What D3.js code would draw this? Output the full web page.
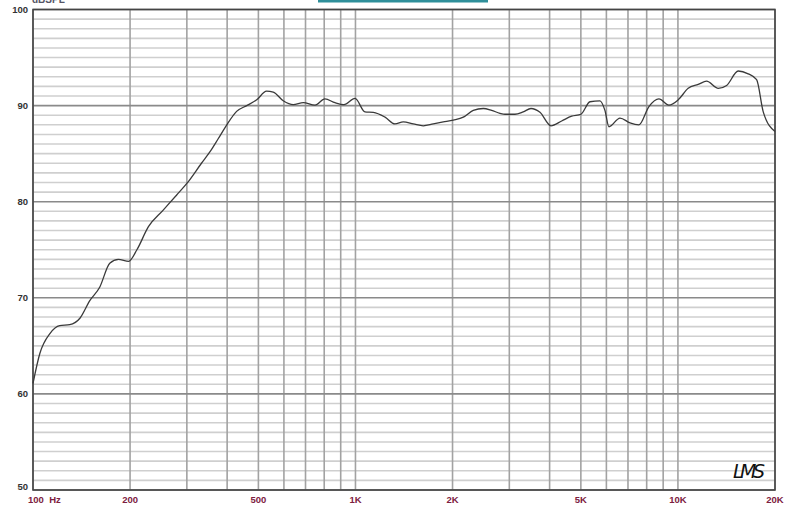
<!DOCTYPE html>
<html>
<head>
<meta charset="utf-8">
<script src="https://cdn.jsdelivr.net/npm/d3@7"></script>
<style>
  body { margin: 0; background: #fff; }
  svg { display: block; }
</style>
</head>
<body>
<div class="chart"></div>
<script>
// frequency response
const freqs = [100, 105, 113, 121, 130, 140, 150, 161, 173, 184, 198, 210, 228, 253, 279, 300,
  333, 354, 376, 399, 428, 460, 494, 530, 556, 597, 641, 689, 749, 804, 864, 921, 997,
  1070, 1136, 1235, 1326, 1407, 1511, 1623, 1743, 1872, 2011, 2160, 2319, 2491, 2645, 2806,
  2908, 3123, 3313, 3502, 3734, 4038, 4360, 4682, 5003, 5336, 5730, 5937, 6110, 6612, 7101,
  7571, 8130, 8732, 9378, 10020, 10760, 11560, 12270, 13340, 14160, 15380, 16520, 17540,
  18390, 20000]
const spl = [61.1, 64.2, 66.3, 67.1, 67.2, 67.9, 69.7, 71.1, 73.6, 74.0, 73.8, 75.0, 77.4, 79.1, 80.7, 81.9,
  84.0, 85.2, 86.6, 88.0, 89.4, 90.0, 90.6, 91.5, 91.4, 90.5, 90.1, 90.3, 90.05, 90.7, 90.3, 90.1, 90.75,
  89.35, 89.3, 88.8, 88.1, 88.3, 88.1, 87.9, 88.1, 88.3, 88.5, 88.8, 89.5, 89.7, 89.5, 89.2,
  89.1, 89.1, 89.35, 89.7, 89.3, 87.9, 88.4, 88.9, 89.1, 90.4, 90.5, 89.5, 87.8, 88.7, 88.2,
  88.0, 89.9, 90.7, 90.05, 90.6, 91.8, 92.2, 92.55, 91.8, 92.1, 93.6, 93.3, 92.7,
  89.35, 87.3]

const gridFreqs = [100, 200, 300, 400, 500, 600, 700, 800, 900, 1000, 2000, 3000, 4000, 5000,
  6000, 7000, 8000, 9000, 10000, 20000]
const tickFreqs = [100, 200, 500, 1000, 2000, 5000, 10000, 20000]
const tickLabels = ["100  Hz", "200", "500", "1K", "2K", "5K", "10K", "20K"]
const dbTicks = [100, 90, 80, 70, 60, 50]

const width = 800
const height = 515
const margin = {left: 33, right: 775, top: 9.5, bottom: 490}

const svg = d3.select(".chart")
  .append("svg")
  .attr("width", width)
  .attr("height", height)

const x = d3.scaleLog().domain([100, 20000]).range([margin.left, margin.right])
const y = d3.scaleLinear().domain([50, 100]).range([margin.bottom, margin.top])

// top decorations
svg.append("rect")
  .attr("x", 318).attr("y", 0).attr("width", 170).attr("height", 2.5)
  .attr("fill", "#2f8f9a")
svg.append("text")
  .attr("x", 32).attr("y", 3)
  .attr("font-family", "Liberation Sans, Arial, sans-serif")
  .attr("font-size", 10).attr("font-weight", "bold")
  .attr("fill", "#556")
  .text("dBSPL")

// minor horizontal grid, every 1 dB
const minor = d3.range(51, 100).filter(d => d % 10 !== 0)
svg.append("g")
  .selectAll("line")
  .data(minor)
  .join("line")
  .attr("x1", margin.left).attr("x2", margin.right)
  .attr("y1", d => y(d)).attr("y2", d => y(d))
  .attr("stroke", "#cfcfcf")
  .attr("stroke-width", 1.6)

// vertical grid
svg.append("g")
  .selectAll("line")
  .data(gridFreqs)
  .join("line")
  .attr("x1", d => x(d)).attr("x2", d => x(d))
  .attr("y1", margin.top).attr("y2", margin.bottom)
  .attr("stroke", "#a2a2a2")
  .attr("stroke-width", 1.6)

// major horizontal grid
svg.append("g")
  .selectAll("line")
  .data(dbTicks)
  .join("line")
  .attr("x1", margin.left).attr("x2", margin.right)
  .attr("y1", d => y(d)).attr("y2", d => y(d))
  .attr("stroke", "#8a8a8a")
  .attr("stroke-width", 1.6)

// frame
svg.append("rect")
  .attr("x", margin.left).attr("y", margin.top)
  .attr("width", margin.right - margin.left).attr("height", margin.bottom - margin.top)
  .attr("fill", "none")
  .attr("stroke", "#444")
  .attr("stroke-width", 1.6)

// y labels
svg.append("g")
  .selectAll("text")
  .data(dbTicks)
  .join("text")
  .attr("x", 28)
  .attr("y", d => y(d) + (d === 50 ? 0 : 3.5))
  .attr("text-anchor", "end")
  .attr("font-family", "Liberation Sans, Arial, sans-serif")
  .attr("font-size", 9.5).attr("font-weight", "bold")
  .attr("fill", "#333")
  .text(d => d)

// x labels
svg.append("g")
  .selectAll("text")
  .data(tickFreqs)
  .join("text")
  .attr("x", (d, i) => i === 0 ? 28 : x(d))
  .attr("y", 503)
  .attr("text-anchor", (d, i) => i === 0 ? "start" : "middle")
  .attr("font-family", "Liberation Sans, Arial, sans-serif")
  .attr("font-size", 9.5).attr("font-weight", "bold")
  .attr("fill", "#7d2040")
  .attr("xml:space", "preserve")
  .style("white-space", "pre")
  .text((d, i) => tickLabels[i])

// response curve
const line = d3.line()
  .x((d, i) => x(freqs[i]))
  .y(d => y(d))
  .curve(d3.curveMonotoneX)

svg.append("path")
  .datum(spl)
  .attr("fill", "none")
  .attr("stroke", "#3a3a3a")
  .attr("stroke-width", 1.3)
  .attr("stroke-linejoin", "round")
  .attr("d", line)

// LMS mark
svg.append("text")
  .attr("x", 733).attr("y", 478)
  .attr("font-family", "DejaVu Sans, sans-serif")
  .attr("font-size", 19).attr("font-style", "italic")
  .attr("textLength", 32)
  .attr("fill", "#111")
  .text("LMS")
</script>
</body>
</html>
